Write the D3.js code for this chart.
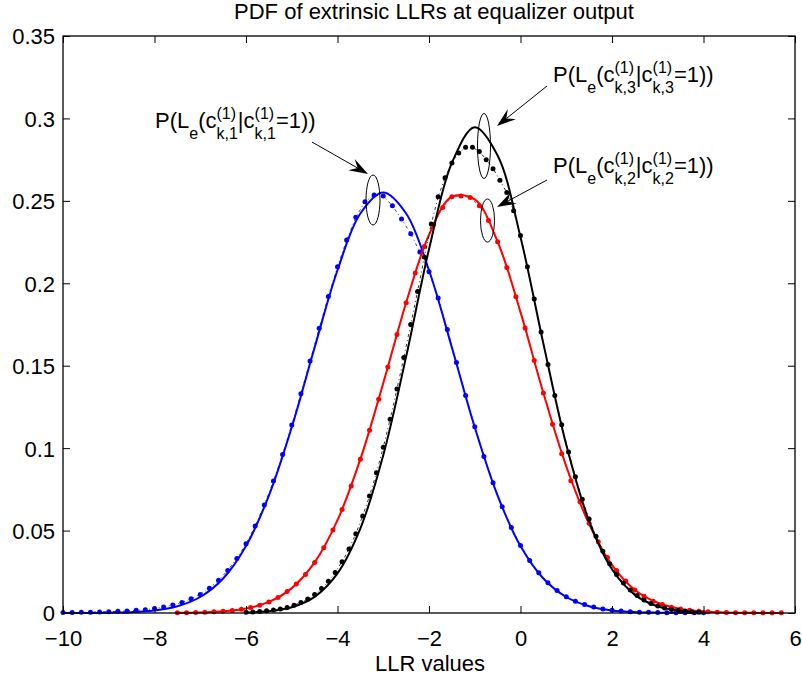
<!DOCTYPE html>
<html>
<head>
<meta charset="utf-8">
<script src="https://cdn.jsdelivr.net/npm/d3@7"></script>
<style>
  html, body { margin: 0; padding: 0; background: #fff; }
  svg { display: block; font-family: "Liberation Sans", Arial, Helvetica, sans-serif; }
</style>
</head>
<body>
<svg id="chart" width="802" height="677"></svg>
<script>
// ---------------- data ----------------
const title = "PDF of extrinsic LLRs at equalizer output";
const xLabel = "LLR values";
const xTicks = [-10, -8, -6, -4, -2, 0, 2, 4, 6];
const xTickLabels = ["\u221210", "\u22128", "\u22126", "\u22124", "\u22122", "0", "2", "4", "6"];
const yTicks = [0, 0.05, 0.1, 0.15, 0.2, 0.25, 0.3, 0.35];
const yTickLabels = ["0", "0.05", "0.1", "0.15", "0.2", "0.25", "0.3", "0.35"];

// solid (analytical) curves, sampled every 0.5
const blueSolidX = [-10,-9.5,-9,-8.5,-8,-7.5,-7,-6.5,-6,-5.5,-5,-4.5,-4,-3.5,-3,-2.5,-2,-1.5,-1,-0.5,0,0.5,1,1.5,2,2.5,3,3.5,4];
const blueSolidY = [0.0000,0.0000,0.0002,0.0005,0.0015,0.0041,0.0097,0.0209,0.0406,0.0712,0.1127,0.1611,0.2079,0.2423,0.2550,0.2423,0.2079,0.1611,0.1127,0.0712,0.0406,0.0209,0.0097,0.0041,0.0015,0.0005,0.0002,0.0001,0.0000];

const redSolidX = [-7.5,-7,-6.5,-6,-5.5,-5,-4.5,-4,-3.5,-3,-2.5,-2,-1.5,-1,-0.5,0,0.5,1,1.5,2,2.5,3,3.5,4,4.5,5,5.5,5.7];
const redSolidY = [0.0001,0.0003,0.0010,0.0027,0.0067,0.0151,0.0307,0.0563,0.0933,0.1394,0.1882,0.2294,0.2525,0.2509,0.2252,0.1825,0.1335,0.0890,0.0540,0.0290,0.0140,0.0062,0.0024,0.0009,0.0003,0.0001,0.0000,0.0000];

const blackSolidX = [-6,-5.5,-5,-4.5,-4,-3.5,-3,-2.5,-2,-1.5,-1,-0.5,0,0.5,1,1.5,2,2.5,3,3.5,4];
const blackSolidY = [0.0003,0.0011,0.0035,0.0098,0.0240,0.0513,0.0957,0.1555,0.2206,0.2730,0.2947,0.2775,0.2280,0.1634,0.1021,0.0557,0.0265,0.0110,0.0040,0.0013,0.0003];

// simulated histograms (dots): first bin centre, bin width, values
const blueDotStart = -10, blueDotStep = 0.2;
const blueDotY = [0.0003,0.0003,0.0004,0.0005,0.0006,0.0008,0.0010,0.0012,0.0016,0.0020,
  0.0027,0.0036,0.0048,0.0064,0.0086,0.0112,0.0150,0.0198,0.0258,0.0330,
  0.0420,0.0528,0.0655,0.0800,0.0962,0.1140,0.1330,0.1528,0.1727,0.1920,
  0.2100,0.2262,0.2400,0.2495,0.2535,0.2530,0.2470,0.2390,0.2300,0.2190,
  0.2070,0.1910,0.1720,0.1520,0.1320,0.1130,0.0950,0.0790,0.0645,0.0518,
  0.0410,0.0318,0.0244,0.0184,0.0136,0.0099,0.0072,0.0051,0.0036,0.0025,
  0.0017,0.0012,0.0008,0.0005,0.0004,0.0003,0.0002,0.0002,0.0001,0.0001,0.0001];

const redDotStart = -7.5, redDotStep = 0.2;
const redDotY = [0.0002,0.0002,0.0003,0.0004,0.0007,0.0010,0.0015,0.0022,0.0033,0.0047,
  0.0067,0.0094,0.0130,0.0176,0.0234,0.0307,0.0396,0.0503,0.0628,0.0771,
  0.0933,0.1108,0.1297,0.1492,0.1689,0.1882,0.2062,0.2223,0.2357,0.2460,
  0.2525,0.2530,0.2520,0.2470,0.2381,0.2252,0.2096,0.1919,0.1729,0.1532,
  0.1335,0.1145,0.0966,0.0802,0.0675,0.0545,0.0432,0.0337,0.0258,0.0194,
  0.0140,0.0101,0.0072,0.0051,0.0035,0.0024,0.0016,0.0011,0.0007,0.0004,
  0.0003,0.0002,0.0001,0.0001,0.0001,0.0001,0.0001];

const blackDotStart = -6, blackDotStep = 0.15;
const blackDotY = [0.0004,0.0006,0.0009,0.0013,0.0018,0.0025,0.0034,0.0047,0.0064,0.0085,
  0.0112,0.0148,0.0192,0.0246,0.0311,0.0388,0.0480,0.0588,0.0710,0.0850,
  0.1005,0.1175,0.1358,0.1550,0.1750,0.1950,0.2160,0.2360,0.2525,0.2640,
  0.2730,0.2790,0.2825,0.2825,0.2800,0.2750,0.2695,0.2625,0.2550,0.2440,
  0.2290,0.2100,0.1905,0.1705,0.1508,0.1320,0.1142,0.0977,0.0826,0.0690,
  0.0570,0.0465,0.0375,0.0298,0.0234,0.0182,0.0140,0.0106,0.0079,0.0058,
  0.0042,0.0030,0.0021,0.0015,0.0010,0.0007,0.0005];

// annotations
const annotations = [
  { idx: "1", textX: 155, textY: 128, from: [312, 142], to: [368, 174], ell: [373, 200, 7, 25] },
  { idx: "3", textX: 553, textY: 82,  from: [547, 86],  to: [497, 126], ell: [484, 146, 6.5, 32.5] },
  { idx: "2", textX: 553, textY: 173, from: [547, 180], to: [497, 207], ell: [487.5, 220.5, 7, 21.5] }
];

// ---------------- drawing ----------------
const svg = d3.select("#chart");
const x = d3.scaleLinear().domain([-10, 6]).range([63, 795]);
const y = d3.scaleLinear().domain([0, 0.35]).range([613, 36]);
const FS = 22;

svg.append("rect").attr("width", 802).attr("height", 677).attr("fill", "#fff");

const toPts = (xs, ys) => xs.map((v, i) => [v, ys[i]]);
const dotPts = (start, step, ys) => ys.map((v, i) => [start + i * step, v]);

const line = d3.line().x(d => x(d[0])).y(d => y(d[1])).curve(d3.curveCatmullRom.alpha(0.5));
const lineLin = d3.line().x(d => x(d[0])).y(d => y(d[1]));

const plot = svg.append("g");

function drawSeries(solid, dots, color) {
  plot.append("path").attr("d", lineLin(dots)).attr("fill", "none")
    .attr("stroke", color).attr("stroke-width", 0.8).attr("stroke-dasharray", "3,3,1,3");
  plot.append("g").selectAll("circle").data(dots).join("circle")
    .attr("cx", d => x(d[0])).attr("cy", d => y(d[1])).attr("r", 2.5).attr("fill", color);
  plot.append("path").attr("d", line(solid)).attr("fill", "none")
    .attr("stroke", color).attr("stroke-width", 2);
}
drawSeries(toPts(blueSolidX, blueSolidY), dotPts(blueDotStart, blueDotStep, blueDotY), "#0000ff");
drawSeries(toPts(redSolidX, redSolidY), dotPts(redDotStart, redDotStep, redDotY), "#ff0000");
drawSeries(toPts(blackSolidX, blackSolidY), dotPts(blackDotStart, blackDotStep, blackDotY), "#000000");

// axes box + ticks (inward, on all sides)
const axG = svg.append("g");
const axBottom = d3.axisBottom(x).tickValues(xTicks).tickSizeInner(-7).tickSizeOuter(0).tickFormat((d, i) => xTickLabels[i]);
const axTop = d3.axisTop(x).tickValues(xTicks).tickSizeInner(-7).tickSizeOuter(0).tickFormat("");
const axLeft = d3.axisLeft(y).tickValues(yTicks).tickSizeInner(-7).tickSizeOuter(0).tickFormat((d, i) => yTickLabels[i]);
const axRight = d3.axisRight(y).tickValues(yTicks).tickSizeInner(-7).tickSizeOuter(0).tickFormat("");

function styleAxis(g) {
  g.select(".domain").remove();
  g.selectAll(".tick line").attr("stroke", "#000").attr("stroke-width", 1);
  g.selectAll(".tick text").attr("fill", "#000").attr("font-size", FS).attr("font-family", null);
}
axG.append("g").attr("transform", "translate(0,613)").call(axBottom).call(styleAxis)
  .selectAll(".tick text").attr("y", 33).attr("dy", null);
axG.append("g").attr("transform", "translate(0,36)").call(axTop).call(styleAxis);
axG.append("g").attr("transform", "translate(63,0)").call(axLeft).call(styleAxis)
  .selectAll(".tick text").attr("x", -8).attr("dy", "0.36em");
axG.append("g").attr("transform", "translate(795,0)").call(axRight).call(styleAxis);
axG.append("rect").attr("x", 63).attr("y", 36).attr("width", 732).attr("height", 577)
  .attr("fill", "none").attr("stroke", "#000").attr("stroke-width", 1.3);

// title and axis label
svg.append("text").attr("x", 434).attr("y", 19).attr("text-anchor", "middle")
  .attr("font-size", 22).text(title);
svg.append("text").attr("x", 430).attr("y", 671).attr("text-anchor", "middle")
  .attr("font-size", FS).text(xLabel);

// annotations
const annG = svg.append("g");
function mathLabel(x0, y0, k) {
  const g = annG.append("g");
  const parts = [
    { t: "P(L", s: 22 },
    { t: "e", s: 16, dy: 11 },
    { t: "(c", s: 22 },
    { stack: [{ t: "(1)", s: 16, dy: -9 }, { t: "k," + k, s: 16, dy: 11 }] },
    { t: "|c", s: 22 },
    { stack: [{ t: "(1)", s: 16, dy: -9 }, { t: "k," + k, s: 16, dy: 11 }] },
    { t: "=1))", s: 22 }
  ];
  let cx = x0;
  parts.forEach(p => {
    const items = p.stack ? p.stack : [p];
    const ws = items.map(it => g.append("text").attr("x", cx).attr("y", y0 + (it.dy || 0))
      .attr("font-size", it.s).attr("fill", "#000").text(it.t).node().getComputedTextLength());
    cx += d3.max(ws);
  });
}
function arrow(from, to) {
  const [x1, y1] = from, [x2, y2] = to;
  const ang = Math.atan2(y2 - y1, x2 - x1);
  const L = 19, W = 6.5, N = 12;
  const ux = Math.cos(ang), uy = Math.sin(ang), px = -uy, py = ux;
  annG.append("line").attr("x1", x1).attr("y1", y1)
    .attr("x2", x2 - ux * N).attr("y2", y2 - uy * N)
    .attr("stroke", "#000").attr("stroke-width", 1);
  const pts = [
    [x2, y2],
    [x2 - ux * L + px * W, y2 - uy * L + py * W],
    [x2 - ux * N, y2 - uy * N],
    [x2 - ux * L - px * W, y2 - uy * L - py * W]
  ];
  annG.append("path").attr("d", "M" + pts.map(p => p.join(",")).join("L") + "Z").attr("fill", "#000");
}
annotations.forEach(a => {
  mathLabel(a.textX, a.textY, a.idx);
  arrow(a.from, a.to);
  annG.append("ellipse").attr("cx", a.ell[0]).attr("cy", a.ell[1]).attr("rx", a.ell[2]).attr("ry", a.ell[3])
    .attr("fill", "none").attr("stroke", "#000").attr("stroke-width", 1);
});
</script>
</body>
</html>
